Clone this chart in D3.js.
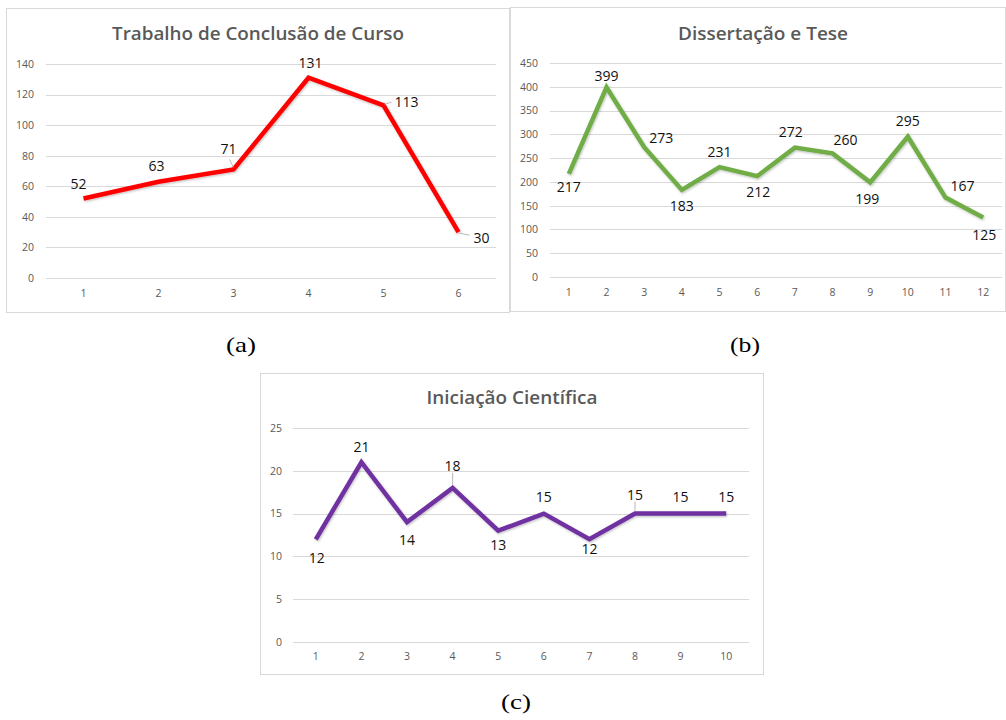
<!DOCTYPE html>
<html>
<head>
<meta charset="utf-8">
<script src="https://cdn.jsdelivr.net/npm/d3@7"></script>
<style>
  html, body { margin: 0; padding: 0; background: #ffffff; }
  svg { display: block; }
</style>
</head>
<body>
<svg id="chart" width="1006" height="720"></svg>
<script>
// ---------------- DATA ----------------
const tccTitle = "Trabalho de Conclusão de Curso";
const tccCategories = ["1", "2", "3", "4", "5", "6"];
const tccValues = [52, 63, 71, 131, 113, 30];
const tccTicks = [0, 20, 40, 60, 80, 100, 120, 140];

const dtTitle = "Dissertação e Tese";
const dtCategories = ["1", "2", "3", "4", "5", "6", "7", "8", "9", "10", "11", "12"];
const dtValues = [217, 399, 273, 183, 231, 212, 272, 260, 199, 295, 167, 125];
const dtTicks = [0, 50, 100, 150, 200, 250, 300, 350, 400, 450];

const icTitle = "Iniciação Científica";
const icCategories = ["1", "2", "3", "4", "5", "6", "7", "8", "9", "10"];
const icValues = [12, 21, 14, 18, 13, 15, 12, 15, 15, 15];
const icTicks = [0, 5, 10, 15, 20, 25];

const captions = ["(a)", "(b)", "(c)"];

// ---------------- LAYOUT (label placement, not data) ----------------
const tccLabelOffsets = [[-5, -15], [-2, -16], [-5, -21], [2, -15], [23, -4], [23, 5]];
const tccLeaders = [null, null, [[-4, -10], [0, -2]], null, [[1, -1], [8, -3]], [[1, 1], [11, 3]]];
const dtLabelOffsets = [[0, 13], [0, -12], [17, -10], [0, 16], [0, -16], [1, 15], [-4, -16], [13, -14], [-3, 16], [0, -16], [17, -12], [1, 17]];
const icLabelOffsets = [[1, 18], [0, -16], [0, 17], [0, -22], [0, 14], [0, -17], [0, 9], [0, -19], [0, -17], [0, -17]];
const icLeaders = [null, null, null, [[0, -15], [0, -3]], null, null, null, [[0, -12], [0, -3]], null, null];

const svg = d3.select("#chart");

const defs = svg.append("defs");
const f = defs.append("filter").attr("id", "shadow")
  .attr("x", "-10%").attr("y", "-10%").attr("width", "120%").attr("height", "130%");
f.append("feDropShadow").attr("dx", 0.8).attr("dy", 1.2).attr("stdDeviation", 1.2)
  .attr("flood-color", "#000").attr("flood-opacity", 0.25);

function drawPanel(cfg) {
  const g = svg.append("g");
  // frame
  g.append("rect")
    .attr("x", cfg.frame[0] + 0.5).attr("y", cfg.frame[1] + 0.5)
    .attr("width", cfg.frame[2] - cfg.frame[0]).attr("height", cfg.frame[3] - cfg.frame[1])
    .attr("fill", "#fff").attr("stroke", "#d9d9d9").attr("stroke-width", 1);

  // title
  g.append("text")
    .attr("x", cfg.titleX).attr("y", cfg.titleY)
    .attr("text-anchor", "middle")
    .attr("font-family", "'Open Sans', sans-serif")
    .attr("font-weight", 600)
    .attr("font-size", 18)
    .attr("fill", "#595959")
    .attr("textLength", cfg.titleLen)
    .attr("lengthAdjust", "spacingAndGlyphs")
    .text(cfg.title);

  const x = d3.scaleBand().domain(cfg.categories).range([cfg.plot[0], cfg.plot[2]]);
  const y = d3.scaleLinear().domain([cfg.ticks[0], cfg.ticks[cfg.ticks.length - 1]]).range([cfg.plot[3], cfg.plot[1]]);
  const cx = (c) => x(c) + x.bandwidth() / 2;

  // gridlines
  const yAxis = d3.axisLeft(y).tickValues(cfg.ticks).tickSize(-(cfg.plot[2] - cfg.plot[0])).tickPadding(12);
  const ya = g.append("g").attr("transform", `translate(${cfg.plot[0]},0)`).call(yAxis);
  ya.select(".domain").remove();
  ya.selectAll(".tick line").attr("stroke", "#d9d9d9").attr("stroke-width", 1)
    .attr("shape-rendering", "crispEdges");
  ya.selectAll(".tick text")
    .attr("font-family", "'Open Sans', sans-serif").attr("font-size", 10.5)
    .attr("fill", "#595959")
    .attr("x", cfg.tickRight - cfg.plot[0]);

  const xAxis = d3.axisBottom(x).tickSize(0).tickPadding(0);
  const xa = g.append("g").attr("transform", `translate(0,${cfg.plot[3]})`).call(xAxis);
  xa.select(".domain").remove();
  xa.selectAll(".tick text")
    .attr("font-family", "'Open Sans', sans-serif").attr("font-size", 10.5)
    .attr("fill", "#595959")
    .attr("dy", null)
    .attr("y", cfg.xLabelY - cfg.plot[3])
    .attr("dominant-baseline", "middle");

  const data = cfg.categories.map((c, i) => ({ c, v: cfg.values[i], i }));

  // line
  const line = d3.line().x(d => cx(d.c)).y(d => y(d.v));
  g.append("path").datum(data)
    .attr("d", line)
    .attr("fill", "none")
    .attr("stroke", cfg.color)
    .attr("stroke-width", cfg.lineWidth)
    .attr("stroke-linejoin", "miter")
    .attr("stroke-linecap", "butt")
    .attr("filter", "url(#shadow)");

  // leader lines
  if (cfg.leaders) {
    data.forEach(d => {
      const l = cfg.leaders[d.i];
      if (!l) return;
      g.append("line")
        .attr("x1", cx(d.c) + l[0][0]).attr("y1", y(d.v) + l[0][1])
        .attr("x2", cx(d.c) + l[1][0]).attr("y2", y(d.v) + l[1][1])
        .attr("stroke", "#a6a6a6").attr("stroke-width", 0.8);
    });
  }

  // data labels
  g.selectAll("text.lbl").data(data).join("text")
    .attr("class", "lbl")
    .attr("x", d => cx(d.c) + cfg.labelOffsets[d.i][0])
    .attr("y", d => y(d.v) + cfg.labelOffsets[d.i][1])
    .attr("text-anchor", "middle")
    .attr("dominant-baseline", "central")
    .attr("font-family", "'Open Sans', sans-serif")
    .attr("font-size", 14)
    .attr("font-weight", 500)
    .attr("fill", "#111")
    .text(d => d.v);

  // caption
  svg.append("text")
    .attr("x", cfg.captionX).attr("y", cfg.captionY)
    .attr("text-anchor", "middle")
    .attr("font-family", "'Liberation Serif', 'Times New Roman', serif")
    .attr("font-size", 22)
    .attr("fill", "#000")
    .attr("textLength", 30)
    .attr("lengthAdjust", "spacingAndGlyphs")
    .text(cfg.caption);
}

drawPanel({
  title: tccTitle, categories: tccCategories, values: tccValues, ticks: tccTicks,
  frame: [6, 8, 509, 312], plot: [46, 64, 496, 278],
  titleX: 258, titleY: 40, titleLen: 292, tickRight: 34, xLabelY: 294,
  color: "#ff0000", lineWidth: 4.5,
  labelOffsets: tccLabelOffsets, leaders: tccLeaders,
  caption: captions[0], captionX: 241, captionY: 352
});

drawPanel({
  title: dtTitle, categories: dtCategories, values: dtValues, ticks: dtTicks,
  frame: [510, 7, 1005, 311], plot: [550, 63, 1002, 277],
  titleX: 763, titleY: 40, titleLen: 170, tickRight: 538, xLabelY: 293,
  color: "#70ad47", lineWidth: 4.5,
  labelOffsets: dtLabelOffsets, leaders: null,
  caption: captions[1], captionX: 745, captionY: 352
});

drawPanel({
  title: icTitle, categories: icCategories, values: icValues, ticks: icTicks,
  frame: [260, 373, 763, 674], plot: [293, 428, 749, 642],
  titleX: 512, titleY: 404, titleLen: 171, tickRight: 282, xLabelY: 657,
  color: "#7030a0", lineWidth: 4.5,
  labelOffsets: icLabelOffsets, leaders: icLeaders,
  caption: captions[2], captionX: 516, captionY: 709
});
</script>
</body>
</html>
